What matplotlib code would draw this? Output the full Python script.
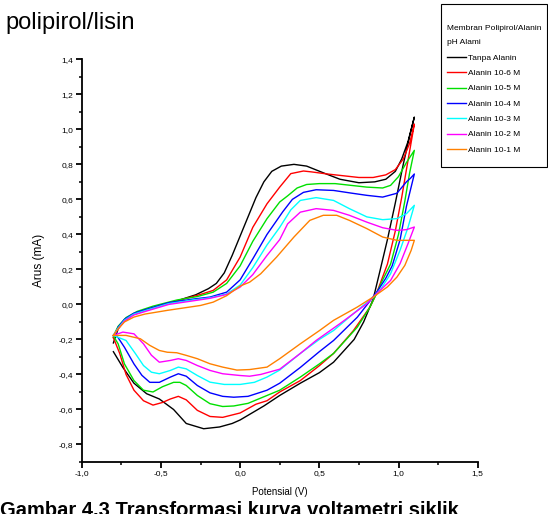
import matplotlib
matplotlib.use('Agg')
import matplotlib.pyplot as plt
from matplotlib.patches import Rectangle
from matplotlib.ticker import MultipleLocator, FuncFormatter

narrow = ['Liberation Sans Narrow', 'Liberation Sans', 'DejaVu Sans']
arial = ['Liberation Sans', 'DejaVu Sans']

labels = ['Tanpa Alanin', 'Alanin 10-6 M', 'Alanin 10-5 M', 'Alanin 10-4 M',
          'Alanin 10-3 M', 'Alanin 10-2 M', 'Alanin 10-1 M']
colors = ['#000000', '#ff0000', '#00e000', '#0000ff', '#00ffff', '#ff00ff', '#ff8000']

# potential (V) and current (mA): cathodic part, rise to vertex, return sweep
x_tanpa = [-0.80, -0.74, -0.67, -0.59, -0.51, -0.42, -0.34, -0.23, -0.13, -0.05, 0.0, 0.15, 0.25,
           0.38, 0.50, 0.59, 0.67, 0.72, 0.78, 0.84, 0.88, 0.93, 0.98, 1.03, 1.07, 1.10,
           1.06, 1.02, 0.98, 0.92, 0.85, 0.75, 0.63, 0.53, 0.42, 0.34, 0.26, 0.20, 0.15, 0.10,
           0.05, 0.0, -0.05, -0.10, -0.15, -0.20, -0.28, -0.40, -0.50, -0.60, -0.68, -0.73, -0.77, -0.80]
y_tanpa = [-0.27, -0.36, -0.45, -0.51, -0.54, -0.60, -0.68, -0.71, -0.70, -0.68, -0.66, -0.58, -0.52,
           -0.45, -0.39, -0.33, -0.25, -0.20, -0.10, 0.03, 0.18, 0.37, 0.58, 0.80, 0.96, 1.07,
           0.93, 0.83, 0.76, 0.715, 0.70, 0.695, 0.715, 0.75, 0.79, 0.80, 0.79, 0.76, 0.70, 0.61,
           0.50, 0.39, 0.28, 0.18, 0.12, 0.09, 0.055, 0.02, -0.005, -0.035, -0.06, -0.09, -0.14, -0.22]

x_a6 = [-0.80, -0.76, -0.72, -0.67, -0.61, -0.55, -0.49, -0.44, -0.39, -0.34, -0.27, -0.19, -0.11,
        0.0, 0.10, 0.17, 0.25, 0.38, 0.50, 0.59, 0.715, 0.82, 0.86, 0.93, 0.98, 1.02, 1.05, 1.075, 1.10,
        1.07, 1.03, 0.98, 0.92, 0.84, 0.75, 0.65, 0.55, 0.45, 0.40, 0.32, 0.25, 0.17, 0.08, 0.0,
        -0.085, -0.17, -0.25, -0.40, -0.55, -0.65, -0.72, -0.77, -0.80]
y_a6 = [-0.19, -0.28, -0.40, -0.49, -0.55, -0.575, -0.56, -0.54, -0.525, -0.545, -0.605, -0.64, -0.645,
        -0.62, -0.57, -0.55, -0.50, -0.435, -0.35, -0.28, -0.15, -0.015, 0.06, 0.23, 0.42, 0.61, 0.77, 0.90, 1.03,
        0.92, 0.83, 0.77, 0.74, 0.725, 0.725, 0.735, 0.745, 0.757, 0.762, 0.747, 0.67, 0.575, 0.44, 0.27,
        0.14, 0.08, 0.057, 0.02, -0.02, -0.045, -0.08, -0.13, -0.19]

x_a5 = [-0.80, -0.77, -0.73, -0.67, -0.61, -0.55, -0.49, -0.42, -0.38, -0.34, -0.27, -0.19, -0.11,
        -0.04, 0.05, 0.17, 0.25, 0.38, 0.50, 0.59, 0.74, 0.82, 0.86, 0.90, 0.95, 1.00, 1.04, 1.07, 1.10,
        1.05, 1.00, 0.95, 0.90, 0.80, 0.70, 0.60, 0.50, 0.42, 0.36, 0.30, 0.25, 0.17, 0.08, 0.0,
        -0.085, -0.17, -0.27, -0.40, -0.55, -0.65, -0.72, -0.77, -0.80]
y_a5 = [-0.18, -0.225, -0.34, -0.435, -0.49, -0.50, -0.47, -0.445, -0.445, -0.463, -0.52, -0.567, -0.583,
        -0.58, -0.565, -0.52, -0.49, -0.415, -0.34, -0.28, -0.13, -0.015, 0.06, 0.14, 0.23, 0.40, 0.59, 0.75, 0.88,
        0.81, 0.73, 0.68, 0.665, 0.67, 0.68, 0.69, 0.69, 0.685, 0.665, 0.62, 0.585, 0.49, 0.36, 0.22,
        0.12, 0.07, 0.045, 0.025, -0.01, -0.04, -0.075, -0.125, -0.18]

x_a4 = [-0.79, -0.77, -0.73, -0.67, -0.62, -0.57, -0.51, -0.44, -0.39, -0.34, -0.27, -0.19, -0.11,
        -0.04, 0.05, 0.17, 0.25, 0.38, 0.50, 0.59, 0.74, 0.82, 0.87, 0.92, 0.96, 1.01, 1.05, 1.10,
        1.075, 1.05, 0.99, 0.90, 0.80, 0.70, 0.59, 0.48, 0.40, 0.33, 0.27, 0.17, 0.08, 0.0,
        -0.085, -0.19, -0.30, -0.45, -0.58, -0.67, -0.73, -0.77, -0.79]
y_a4 = [-0.177, -0.19, -0.245, -0.34, -0.405, -0.445, -0.445, -0.415, -0.396, -0.41, -0.463, -0.505, -0.525,
        -0.53, -0.525, -0.49, -0.45, -0.36, -0.27, -0.206, -0.073, 0.02, 0.08, 0.15, 0.22, 0.37, 0.56, 0.745,
        0.72, 0.70, 0.635, 0.613, 0.623, 0.636, 0.651, 0.655, 0.64, 0.60, 0.53, 0.40, 0.26, 0.14,
        0.07, 0.042, 0.03, 0.01, -0.025, -0.05, -0.085, -0.13, -0.177]

x_a3 = [-0.80, -0.72, -0.66, -0.61, -0.56, -0.51, -0.44, -0.39, -0.34, -0.27, -0.19, -0.10, 0.0,
        0.09, 0.17, 0.25, 0.38, 0.50, 0.59, 0.74, 0.84, 0.89, 0.95, 1.01, 1.06, 1.10,
        1.05, 0.99, 0.90, 0.80, 0.69, 0.59, 0.48, 0.38, 0.32, 0.25, 0.17, 0.08, 0.0,
        -0.085, -0.19, -0.30, -0.45, -0.58, -0.67, -0.73, -0.77, -0.80]
y_a3 = [-0.177, -0.206, -0.282, -0.349, -0.387, -0.396, -0.377, -0.358, -0.368, -0.406, -0.444, -0.457, -0.457,
        -0.445, -0.415, -0.375, -0.28, -0.20, -0.149, -0.034, 0.04, 0.09, 0.175, 0.31, 0.44, 0.566,
        0.518, 0.49, 0.484, 0.50, 0.547, 0.594, 0.61, 0.594, 0.54, 0.44, 0.34, 0.21, 0.11,
        0.06, 0.038, 0.025, 0.005, -0.03, -0.055, -0.09, -0.135, -0.177]

x_a2 = [-0.80, -0.74, -0.67, -0.61, -0.56, -0.51, -0.44, -0.39, -0.34, -0.27, -0.19, -0.11, 0.0,
        0.06, 0.13, 0.25, 0.38, 0.48, 0.63, 0.80, 0.86, 0.95, 1.01, 1.06, 1.10,
        1.05, 0.99, 0.90, 0.80, 0.69, 0.59, 0.48, 0.38, 0.30, 0.25, 0.17, 0.08, 0.0,
        -0.085, -0.19, -0.30, -0.45, -0.58, -0.67, -0.73, -0.77, -0.80]
y_a2 = [-0.177, -0.158, -0.168, -0.225, -0.29, -0.33, -0.32, -0.31, -0.32, -0.349, -0.377, -0.396, -0.406,
        -0.41, -0.40, -0.37, -0.28, -0.206, -0.11, 0.004, 0.06, 0.137, 0.233, 0.347, 0.442,
        0.427, 0.423, 0.438, 0.47, 0.509, 0.537, 0.547, 0.527, 0.46, 0.37, 0.28, 0.17, 0.099,
        0.057, 0.035, 0.02, 0.0, -0.035, -0.06, -0.095, -0.14, -0.177]

x_a1 = [-0.80, -0.72, -0.63, -0.57, -0.51, -0.46, -0.40, -0.34, -0.27, -0.19, -0.11, -0.02, 0.06,
        0.17, 0.25, 0.38, 0.50, 0.59, 0.74, 0.84, 0.93, 0.99, 1.04, 1.08, 1.10,
        1.05, 0.99, 0.90, 0.80, 0.69, 0.61, 0.525, 0.44, 0.34, 0.23, 0.13, 0.06, 0.0,
        -0.085, -0.17, -0.25, -0.46, -0.60, -0.67, -0.73, -0.77, -0.80]
y_a1 = [-0.177, -0.177, -0.196, -0.234, -0.263, -0.273, -0.276, -0.291, -0.31, -0.339, -0.358, -0.375, -0.372,
        -0.358, -0.31, -0.225, -0.15, -0.091, -0.015, 0.042, 0.10, 0.156, 0.223, 0.309, 0.366,
        0.366, 0.366, 0.385, 0.433, 0.48, 0.509, 0.509, 0.48, 0.385, 0.27, 0.175, 0.127, 0.105,
        0.05, 0.013, -0.006, -0.034, -0.055, -0.072, -0.10, -0.14, -0.177]

xs = [x_tanpa, x_a6, x_a5, x_a4, x_a3, x_a2, x_a1]
ys = [y_tanpa, y_a6, y_a5, y_a4, y_a3, y_a2, y_a1]

fig = plt.figure(figsize=(5.48, 5.14), dpi=100)
ax = fig.add_axes([81.7 / 548, 1 - 462 / 514, (477.7 - 81.7) / 548, (462 - 59.3) / 514])

for x, y, c, lab in zip(xs, ys, colors, labels):
    ax.plot(x, y, color=c, lw=1.0, label=lab)

ax.set_xlim(-1.0, 1.5)
ax.set_ylim(-0.9, 1.4)
ax.xaxis.set_major_locator(MultipleLocator(0.5))
ax.xaxis.set_minor_locator(MultipleLocator(0.25))
ax.yaxis.set_minor_locator(MultipleLocator(0.1))
comma = FuncFormatter(lambda v, p: ('%.1f' % v).replace('.', ',').replace('-0,0', '0,0'))
ax.xaxis.set_major_formatter(comma)
ax.yaxis.set_major_formatter(comma)
ax.set_yticks([t / 10 for t in range(-8, 15, 2)])

for s in ['top', 'right']:
    ax.spines[s].set_visible(False)
for s in ['left', 'bottom']:
    ax.spines[s].set_linewidth(1.3)
ax.tick_params(which='major', direction='out', length=4, width=1.3, labelsize=6, pad=2)
ax.tick_params(which='minor', direction='out', length=2.5, width=1.1)
for t in ax.get_xticklabels() + ax.get_yticklabels():
    t.set_family(narrow)

ax.set_xlabel('Potensial (V)', family=narrow, fontsize=7, labelpad=7)
ax.set_ylabel('Arus (mA)', family=arial, fontsize=8.5, labelpad=10)

# legend without its own frame; the box is drawn separately so the padding can match
leg = fig.legend(loc='upper left', bbox_to_anchor=(447 / 548, 1 - 25 / 514),
                 title='Membran Polipirol/Alanin\npH Alami', alignment='left',
                 prop={'family': narrow, 'size': 6.0}, frameon=False,
                 handlelength=2.3, handletextpad=0.25, labelspacing=0.9, borderpad=0,
                 borderaxespad=0)
leg.get_title().set_fontproperties({'family': narrow, 'size': 6.0})
leg.get_title().set_linespacing(2.5)
fig.patches.append(Rectangle((441 / 548, 1 - 167 / 514), 106 / 548, 163 / 514,
                             transform=fig.transFigure, fill=False, lw=0.8, ec='black'))

fig.text(5 / 548, 1 - 29 / 514, 'polipirol/lisin', family=arial, fontsize=17)
fig.text(0 / 548, 1 - 501 / 514, 'Gambar 4.3 Transformasi kurva voltametri siklik',
         family=arial, fontsize=14.5, fontweight='bold', va='top')

fig.savefig('out.png', dpi=100)
